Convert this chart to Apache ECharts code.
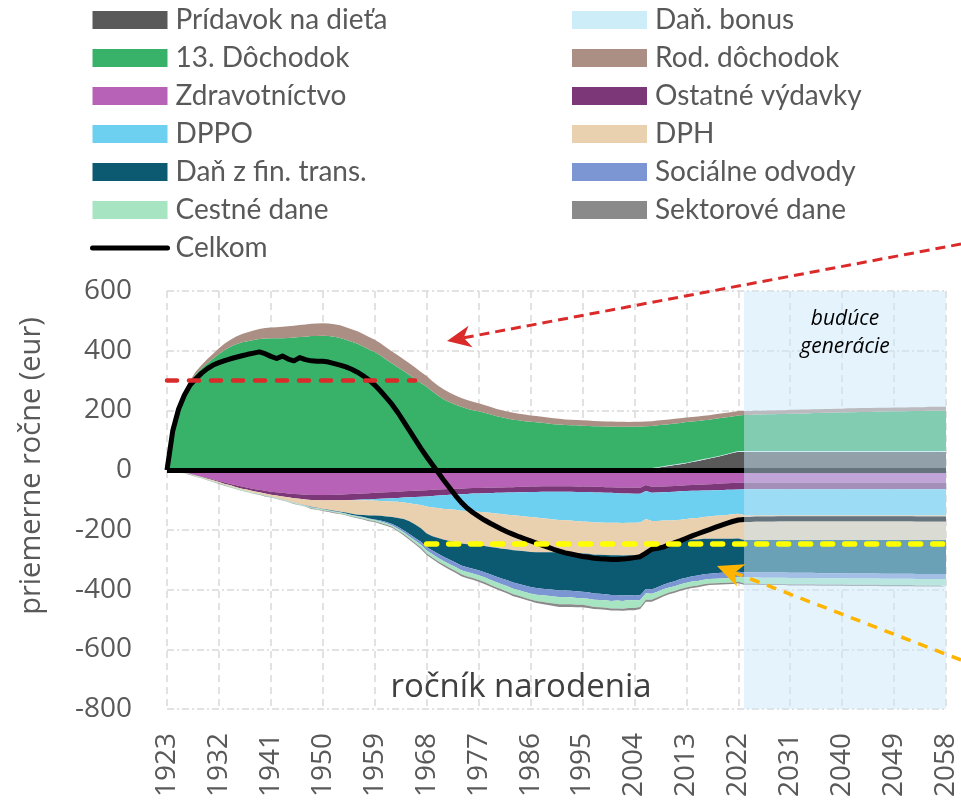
<!DOCTYPE html>
<html>
<head>
<meta charset="utf-8">
<script src="https://cdn.jsdelivr.net/npm/echarts@6/dist/echarts.min.js"></script>
<style>
html,body{margin:0;padding:0;background:#fff;}
#chart{width:961px;height:800px;}
</style>
</head>
<body>
<div id="chart"></div>
<script>
// ---- categories (birth cohorts) ----
const years = [];
for (let y = 1923; y <= 2058; y++) years.push(String(y));

// ---- series values (EUR per year), 1923..2022 then 2023..2058 ----
const pridavok = [
  0,0,0,0,0,0,0,0,0,0, 0,0,0,0,0,0,0,0,0,0, 0,0,0,0,0,0,0,0,0,0, 0,0,0,0,0,0,0,0,0,0,
  0,0,0,0,0,0,0,0,0,0, 0,0,0,0,0,0,0,0,0,0, 0,0,0,0,0,0,0,0,0,0, 0,0,0,0,0,0,0,0,0,0,
  0,0,0,3,5,8,11,14,17,20, 23,27,31,35,39,43,47,52,57,62,
  61,61,61,61,61,61,61,61,61, 61,61,61,61,61,61,61,61,61, 61,61,61,61,61,61,61,61,61, 61,61,61,61,61,61,61,61,61
];
const danBonus = [
  0,0,0,0,0,0,0,0,0,0, 0,0,0,0,0,0,0,0,0,0, 0,0,0,0,0,0,0,0,0,0, 0,0,0,0,0,0,0,0,0,0,
  0,0,0,0,0,0,0,0,0,0, 0,0,0,0,0,0,0,0,0,0, 0,0,0,0,0,0,0,0,0,0, 0,0,0,0,0,0,0,0,0,0,
  0,2,2,2,2,2,2,2,2,2, 2,2,2,2,2,2,2,2,2,2,
  3,3,3,3,3,3,3,3,3, 3,3,3,3,3,3,3,3,3, 3,3,3,3,3,3,3,3,3, 3,3,3,3,3,3,3,3,3
];
const dochodok13 = [
  0,138,210,260,295,322,341,358,374,389,
  402,413,422,428,432,436,439,441,442,442,
  442,443,444,446,447,449,449,450,449,447,
  443,437,430,423,414,404,396,384,370,357,
  345,332,319,306,292,279,263,249,237,227,
  219,212,206,201,197,192,187,181,177,173,
  169,167,164,162,160,159,156,154,153,151,
  150,150,149,148,147,147,146,146,145,145,
  145,144,144,142,141,140,139,138,137,136,
  136,134,132,130,128,127,126,123,121,119,
  121,121,122,122,123,123,124,124,125, 125,126,126,127,127,128,128,129,129,
  130,130,131,131,131,132,132,132,133, 133,133,134,134,134,135,135,135,135
];
const rodDochodok = [
  0,0,0,2,5,8,11,14,16,19,
  22,24,26,28,30,32,34,35,36,37,
  38,39,40,40,41,41,42,42,42,42,
  42,42,42,42,42,42,41,41,41,40,
  40,39,39,38,37,36,35,34,33,32,
  31,30,29,28,27,26,25,25,24,23,
  23,22,22,21,21,20,20,20,19,19,
  19,18,18,18,18,17,17,17,17,17,
  16,16,16,16,16,16,16,16,16,16,
  15,15,15,15,15,15,15,15,15,15,
  13,13,13,13,13,13,13,13,13, 13,13,13,13,13,13,13,13,13, 13,13,13,13,13,13,13,13,13, 13,13,13,13,13,13,13,13,13
];
const zdravotnictvo = [
  0,-3,-5,-8,-12,-16,-21,-26,-31,-36,
  -41,-46,-51,-55,-59,-63,-66,-69,-72,-74,
  -76,-78,-80,-81,-82,-83,-83,-83,-83,-82,
  -82,-81,-80,-79,-78,-77,-76,-75,-74,-73,
  -72,-71,-70,-69,-68,-67,-66,-65,-64,-63,
  -62,-62,-61,-60,-60,-59,-59,-58,-58,-57,
  -57,-56,-56,-55,-55,-54,-54,-54,-54,-54,
  -54,-55,-55,-55,-56,-56,-57,-57,-58,-58,
  -58,-59,-59,-50,-56,-55,-55,-54,-53,-52,
  -51,-50,-49,-48,-47,-46,-45,-44,-43,-42,
  -41,-41,-41,-41,-41,-41,-41,-41,-41, -41,-41,-41,-41,-41,-41,-41,-41,-41,
  -41,-41,-41,-41,-41,-41,-41,-41,-41, -41,-41,-41,-41,-41,-41,-41,-41,-41
];
const ostatneVydavky = [
  0,0,-1,-1,-1,-2,-2,-3,-3,-4,
  -5,-5,-6,-7,-7,-8,-8,-9,-10,-11,
  -12,-13,-14,-15,-16,-17,-17,-18,-18,-19,
  -19,-19,-20,-20,-20,-21,-21,-21,-21,-21,
  -21,-21,-21,-21,-21,-21,-21,-20,-20,-19,
  -19,-19,-19,-18,-18,-18,-18,-18,-18,-18,
  -18,-18,-18,-18,-18,-18,-18,-18,-18,-18,
  -18,-18,-18,-18,-19,-19,-19,-19,-19,-20,
  -20,-20,-20,-20,-20,-20,-19,-19,-19,-19,
  -19,-19,-20,-20,-21,-21,-22,-22,-23,-23,
  -23,-23,-23,-23,-23,-23,-23,-23,-23, -23,-23,-23,-23,-23,-23,-23,-23,-23,
  -23,-23,-23,-23,-23,-23,-23,-23,-23, -23,-23,-23,-23,-23,-23,-23,-23,-23
];
const dppo = [
  0,0,0,0,0,0,0,0,0,0, 0,0,0,0,0,0,0,0,0,0, 0,0,0,0,0,0,0,0,0,0,
  0,0,-1,-2,-3,-4,-5,-7,-9,-11,
  -13,-16,-20,-24,-28,-34,-38,-42,-46,-49,
  -52,-55,-57,-59,-61,-64,-66,-69,-71,-74,
  -76,-79,-81,-84,-86,-89,-91,-93,-95,-96,
  -97,-98,-99,-100,-100,-100,-100,-100,-99,-99,
  -98,-97,-96,-94,-94,-95,-95,-96,-96,-95,
  -94,-92,-91,-89,-87,-86,-85,-84,-82,-81,
  -86,-86,-86,-86,-86,-86,-86,-86,-86, -86,-86,-86,-86,-86,-86,-86,-86,-86,
  -86,-86,-86,-86,-86,-86,-86,-86,-86, -86,-86,-86,-86,-86,-86,-86,-86,-86
];
const dph = [
  0,0,-1,-1,-1,-2,-2,-2,-3,-3,
  -3,-4,-4,-4,-5,-5,-5,-6,-6,-8,
  -10,-12,-14,-17,-20,-23,-26,-29,-32,-35,
  -38,-42,-45,-48,-49,-50,-50,-50,-51,-52,
  -54,-56,-60,-68,-78,-90,-96,-100,-103,-106,
  -108,-110,-111,-112,-112,-113,-114,-115,-116,-116,
  -117,-117,-117,-117,-116,-114,-112,-110,-108,-107,
  -107,-107,-107,-107,-108,-108,-108,-109,-109,-109,
  -109,-110,-110,-104,-100,-92,-85,-79,-75,-72,
  -71,-71,-72,-73,-75,-77,-78,-80,-82,-83,
  -84,-84,-84,-84,-84,-84,-84,-84,-84, -84,-84,-84,-84,-84,-84,-84,-84,-84,
  -84,-84,-84,-84,-84,-84,-84,-84,-84, -84,-84,-84,-84,-84,-84,-84,-84,-84
];
const danFinTrans = [
  0,0,0,0,0,0,0,0,0,0, 0,0,0,0,0,0,0,0,0,0,
  0,0,0,0,0,-1,-1,-1,-1,-2,
  -2,-3,-4,-5,-7,-10,-13,-16,-19,-23,
  -30,-37,-43,-45,-45,-45,-48,-53,-58,-63,
  -68,-73,-77,-81,-84,-88,-92,-96,-100,-104,
  -108,-111,-114,-117,-120,-122,-124,-126,-128,-128,
  -128,-128,-128,-129,-130,-131,-132,-133,-133,-134,
  -134,-134,-134,-130,-130,-130,-130,-129,-129,-127,
  -125,-123,-121,-119,-117,-115,-114,-113,-112,-111,
  -108,-108,-108,-109,-109,-109,-109,-109,-110, -110,-110,-110,-110,-111,-111,-111,-111,-111,
  -112,-112,-112,-112,-112,-112,-113,-113,-113, -113,-113,-113,-114,-114,-114,-114,-114,-114
];
const socOdvody = [
  0,0,0,0,0,0,0,0,0,0,
  0,0,0,0,0,0,0,-1,-1,-1,
  -1,-1,-1,-1,-1,-1,-1,-1,-1,-1,
  -1,-1,-1,-1,-2,-2,-2,-3,-4,-5,
  -6,-7,-8,-9,-10,-12,-13,-14,-14,-15,
  -15,-16,-16,-16,-17,-17,-18,-19,-19,-20,
  -21,-21,-22,-22,-22,-22,-22,-22,-22,-22,
  -22,-22,-22,-22,-21,-21,-20,-20,-19,-18,
  -16,-16,-16,-14,-14,-15,-15,-16,-17,-17,
  -17,-18,-18,-18,-18,-19,-19,-19,-19,-19,
  -17,-17,-17,-17,-17,-17,-17,-17,-17, -17,-17,-17,-17,-17,-17,-17,-17,-17,
  -17,-17,-17,-17,-17,-17,-17,-17,-17, -17,-17,-17,-17,-17,-17,-17,-17,-17
];
const cestneDane = [
  0,0,-1,-1,-1,-1,-1,-2,-2,-2,
  -2,-2,-2,-2,-2,-2,-2,-2,-2,-2,
  -2,-2,-3,-3,-3,-3,-3,-3,-3,-3,
  -3,-3,-4,-4,-4,-4,-4,-5,-5,-5,
  -6,-6,-7,-8,-9,-10,-11,-12,-12,-13,
  -14,-14,-15,-15,-16,-16,-17,-17,-18,-18,
  -19,-19,-19,-20,-21,-22,-23,-24,-24,-24,
  -23,-23,-22,-23,-24,-24,-25,-25,-26,-26,
  -27,-26,-23,-22,-20,-19,-18,-17,-16,-16,
  -16,-16,-15,-15,-15,-15,-15,-15,-15,-15,
  -21,-21,-21,-21,-21,-21,-21,-21,-21, -21,-21,-21,-21,-21,-21,-21,-21,-21,
  -21,-21,-21,-21,-21,-21,-21,-21,-21, -21,-21,-21,-21,-21,-21,-21,-21,-21
];
const sektoroveDane = [
  0,0,0,0,-1,-1,-1,-1,-1,-1,
  -1,-1,-1,-1,-1,-1,-1,-1,-1,-1,
  -1,-1,-1,-1,-1,-2,-2,-2,-2,-2,
  -2,-2,-2,-2,-2,-3,-3,-3,-3,-3,
  -3,-4,-4,-4,-5,-5,-5,-5,-6,-6,
  -6,-6,-6,-6,-6,-6,-6,-6,-6,-6,
  -6,-6,-6,-6,-7,-7,-8,-8,-9,-9,
  -9,-8,-8,-8,-7,-7,-7,-7,-7,-7,
  -7,-7,-7,-7,-7,-6,-6,-6,-6,-6,
  -6,-6,-6,-6,-5,-5,-5,-5,-5,-5,
  -4,-4,-4,-4,-4,-4,-4,-4,-4, -4,-4,-4,-4,-4,-4,-4,-4,-4,
  -4,-4,-4,-4,-4,-4,-4,-4,-4, -4,-4,-4,-4,-4,-4,-4,-4,-4
];
const celkom = [
  0,132,204,251,285,306,325,340,352,360,
  367,373,378,383,388,392,396,390,381,374,
  382,372,366,377,370,366,365,365,362,357,
  352,346,338,328,316,302,285,265,243,220,
  193,163,133,103,73,45,18,-8,-35,-60,
  -85,-108,-127,-142,-155,-167,-178,-188,-198,-207,
  -215,-223,-230,-237,-244,-251,-258,-265,-271,-277,
  -281,-285,-289,-292,-295,-297,-298,-299,-299,-298,
  -296,-293,-290,-278,-265,-262,-258,-250,-243,-236,
  -228,-220,-213,-206,-199,-192,-185,-178,-172,-167,
  -165,-165,-164,-164,-164,-164,-163,-163,-163, -163,-163,-163,-163,-163,-163,-163,-163,-163,
  -163,-163,-163,-163,-163,-163,-163,-163,-163, -163,-163,-163,-164,-164,-164,-164,-164,-164
];

// ---- reference averages (dashed guides) ----
const avgCurrent = 300, avgCurrentFrom = '1923', avgCurrentTo = '1966';
const avgFuture = -247, avgFutureFrom = '1968', avgFutureTo = '2058';
const futureFrom = '2023', futureTo = '2058';

// ---- names ----
const N = {
  pridavok: 'Prídavok na dieťa', bonus: 'Daň. bonus', d13: '13. Dôchodok', rod: 'Rod. dôchodok',
  zdrav: 'Zdravotníctvo', ost: 'Ostatné výdavky', dppo: 'DPPO', dph: 'DPH',
  ft: 'Daň z fin. trans.', so: 'Sociálne odvody', cd: 'Cestné dane', sd: 'Sektorové dane', tot: 'Celkom'
};
const C = {
  pridavok: '#595959', bonus: '#cdeef9', d13: '#38b269', rod: '#ab8f84',
  zdrav: '#b762b6', ost: '#7c3779', dppo: '#6dd0f0', dph: '#e9d0af',
  ft: '#0b5a72', so: '#7b96d3', cd: '#a6e4c2', sd: '#8a8a8a'
};

function area(name, data, color, stack) {
  return {
    name, type: 'line', stack, data, symbol: 'none', silent: true, z: 2,
    lineStyle: { width: 0, color }, itemStyle: { color },
    areaStyle: { color, opacity: 1 }
  };
}

const chart = echarts.init(document.getElementById('chart'), null, { renderer: 'canvas' });
const axisFont = 'Open Sans';
const legendText = { fontSize: 28, fontFamily: 'Lato', color: '#595959', lineHeight: 38, padding: [0, 0, 0, 3] };

function arrow(x0, y0, tx, ty, color, width, dash, L, W) {
  const dx = tx - x0, dy = ty - y0, len = Math.hypot(dx, dy);
  const ux = dx / len, uy = dy / len, nx = -uy, ny = ux;
  const bx = tx - ux * L, by = ty - uy * L;
  const kx = tx - ux * (L - 7), ky = ty - uy * (L - 7);
  return [
    { type: 'line', z: 100, shape: { x1: x0, y1: y0, x2: kx, y2: ky },
      style: { stroke: color, lineWidth: width, lineDash: dash } },
    { type: 'polygon', z: 100, shape: { points: [[tx, ty], [bx + nx * W, by + ny * W], [kx, ky], [bx - nx * W, by - ny * W]] },
      style: { fill: color } }
  ];
}

chart.setOption({
  animation: false,
  backgroundColor: '#fff',
  grid: { left: 167, right: 15, top: 291, bottom: 91, containLabel: false, outerBoundsMode: 'none' },
  legend: [
    { orient: 'vertical', left: 90, top: 1, padding: 0, itemWidth: 75, itemHeight: 18, itemGap: 0,
      textStyle: legendText, selectedMode: false,
      data: [
        { name: N.pridavok, icon: 'rect' }, { name: N.d13, icon: 'rect' }, { name: N.zdrav, icon: 'rect' },
        { name: N.dppo, icon: 'rect' }, { name: N.ft, icon: 'rect' }, { name: N.cd, icon: 'rect' },
        { name: N.tot, itemStyle: { opacity: 0 }, lineStyle: { width: 5, color: '#000', cap: 'round' } }
      ] },
    { orient: 'vertical', left: 572, top: 1, padding: 0, itemWidth: 75, itemHeight: 18, itemGap: 0,
      textStyle: legendText, selectedMode: false,
      data: [
        { name: N.bonus, icon: 'rect' }, { name: N.rod, icon: 'rect' }, { name: N.ost, icon: 'rect' },
        { name: N.dph, icon: 'rect' }, { name: N.so, icon: 'rect' }, { name: N.sd, icon: 'rect' }
      ] }
  ],
  xAxis: {
    type: 'category', data: years, boundaryGap: false,
    axisLine: { show: false }, axisTick: { show: false, interval: 8 },
    axisLabel: { interval: 8, rotate: 90, margin: 24, fontSize: 28, fontFamily: axisFont, color: '#595959' },
    splitLine: { show: true, interval: 8, lineStyle: { color: '#d9d9d9', width: 1.5, type: [7, 5] } }
  },
  yAxis: {
    type: 'value', min: -800, max: 600, interval: 200,
    axisLine: { show: false }, axisTick: { show: false },
    axisLabel: { margin: 35, fontSize: 28, fontFamily: axisFont, color: '#595959' },
    splitLine: { show: true, lineStyle: { color: '#d9d9d9', width: 1.5, type: [7, 3, 2, 3] } }
  },
  series: [
    area(N.pridavok, pridavok, C.pridavok, 'pos'),
    area(N.bonus, danBonus, C.bonus, 'pos'),
    area(N.d13, dochodok13, C.d13, 'pos'),
    area(N.rod, rodDochodok, C.rod, 'pos'),
    area(N.zdrav, zdravotnictvo, C.zdrav, 'neg'),
    area(N.ost, ostatneVydavky, C.ost, 'neg'),
    area(N.dppo, dppo, C.dppo, 'neg'),
    area(N.dph, dph, C.dph, 'neg'),
    area(N.ft, danFinTrans, C.ft, 'neg'),
    area(N.so, socOdvody, C.so, 'neg'),
    area(N.cd, cestneDane, C.cd, 'neg'),
    area(N.sd, sektoroveDane, C.sd, 'neg'),
    {
      name: N.tot, type: 'line', data: celkom, symbol: 'none', silent: true, z: 3,
      itemStyle: { color: '#000' },
      lineStyle: { color: '#000', width: 5, cap: 'butt', join: 'round' },
      markLine: {
        z: 3, silent: true, symbol: ['none', 'none'], label: { show: false },
        lineStyle: { color: '#000', width: 5, type: 'solid' },
        data: [{ yAxis: 0 }]
      }
    },
    {
      name: '_future', type: 'line', data: [], z: 10, silent: true,
      markArea: {
        z: 10, silent: true,
        itemStyle: { color: 'rgba(203,232,249,0.5)' },
        label: { show: true, position: 'insideTop', distance: 14, formatter: 'budúce\ngenerácie',
          fontStyle: 'italic', fontSize: 21, lineHeight: 28, color: '#000', fontFamily: axisFont },
        data: [[{ xAxis: futureFrom }, { xAxis: futureTo }]]
      }
    },
    {
      name: '_guides', type: 'line', data: [], z: 12, silent: true,
      markLine: {
        z: 12, silent: true, symbol: ['none', 'none'], label: { show: false },
        data: [
          [{ coord: [avgCurrentFrom, avgCurrent], lineStyle: { color: '#da2a2a', width: 4.5, type: [10, 12], cap: 'round' } },
           { coord: [avgCurrentTo, avgCurrent] }],
          [{ coord: [avgFutureFrom, avgFuture], lineStyle: { color: '#ffff00', width: 5.5, type: [10, 12], cap: 'round' } },
           { coord: [avgFutureTo, avgFuture] }]
        ]
      }
    }
  ],
  graphic: [
    { type: 'text', x: 521, y: 688, z: 50,
      style: { text: 'ročník narodenia', fontSize: 33, fontFamily: axisFont, fill: '#404040', align: 'center', verticalAlign: 'middle' } },
    { type: 'text', x: 32, y: 466, rotation: Math.PI / 2, z: 50,
      style: { text: 'priemerne ročne (eur)', fontSize: 29, fontFamily: axisFont, fill: '#595959', align: 'center', verticalAlign: 'middle' } },
    ...arrow(961, 244, 447, 341, '#da2a2a', 3, [10, 6], 24, 11),
    ...arrow(961, 660, 717, 566, '#ffb400', 3.5, [10, 8], 26, 12)
  ]
});
</script>
</body>
</html>
